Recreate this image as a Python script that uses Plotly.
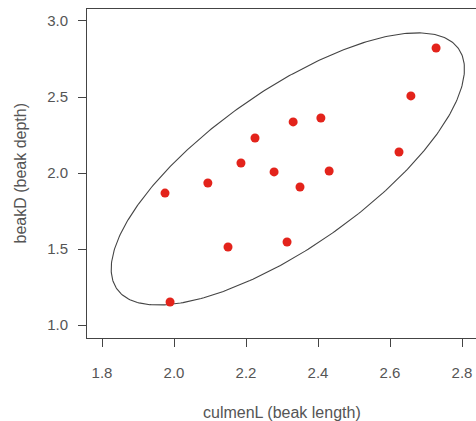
import numpy as np
import plotly.graph_objects as go

# Beak measurements
culmen_length = [1.975, 2.094, 2.186, 2.225, 2.278, 2.331, 2.408, 2.350, 2.431,
                 2.625, 2.658, 2.728, 2.150, 2.314, 1.989]
beak_depth = [1.868, 1.934, 2.066, 2.230, 2.007, 2.336, 2.362, 1.908, 2.013,
              2.138, 2.507, 2.822, 1.513, 1.546, 1.151]

x_ticks = [1.8, 2.0, 2.2, 2.4, 2.6, 2.8]
y_ticks = [1.0, 1.5, 2.0, 2.5, 3.0]

# 90% normal-theory ellipse from the sample mean and covariance
xy = np.column_stack([culmen_length, beak_depth])
center = xy.mean(axis=0)
cov = np.cov(xy, rowvar=False)
vals, vecs = np.linalg.eigh(cov)
radius = np.sqrt(-2 * np.log(1 - 0.90))
t = np.linspace(0, 2 * np.pi, 361)
circle = np.vstack([np.cos(t), np.sin(t)])
ell = (vecs @ np.diag(np.sqrt(vals)) @ circle) * radius + center[:, None]

text_col = "#555555"
line_col = "#444444"
tick_font = dict(family="Liberation Sans, Arial, sans-serif", size=15, color=text_col)
title_font = dict(family="Liberation Sans, Arial, sans-serif", size=16, color=text_col)

fig = go.Figure()
fig.add_trace(go.Scatter(x=ell[0], y=ell[1], mode="lines",
                         line=dict(color=line_col, width=1.1),
                         hoverinfo="skip", showlegend=False))
fig.add_trace(go.Scatter(x=culmen_length, y=beak_depth, mode="markers",
                         marker=dict(color="#e3231b", size=9),
                         showlegend=False))

fig.update_layout(
    width=476, height=421,
    margin=dict(l=87, r=0, t=9, b=83),
    paper_bgcolor="white", plot_bgcolor="white",
    font=tick_font,
    xaxis=dict(range=[1.7583, 2.8389], tickvals=x_ticks,
               ticktext=[f"{v:.1f}" for v in x_ticks],
               showgrid=False, zeroline=False,
               showline=True, linecolor=line_col, linewidth=1, mirror=True,
               ticks="outside", ticklen=8, tickcolor=line_col,
               ticklabelstandoff=13, tickfont=tick_font),
    yaxis=dict(range=[0.9145, 3.0789], tickvals=y_ticks,
               ticktext=[f"{v:.1f}" for v in y_ticks],
               showgrid=False, zeroline=False,
               showline=True, linecolor=line_col, linewidth=1, mirror=False,
               ticks="outside", ticklen=8, tickcolor=line_col,
               ticklabelstandoff=7, tickfont=tick_font),
    annotations=[
        dict(text="culmenL (beak length)", xref="paper", yref="paper",
             x=0.5, y=0, xanchor="center", yanchor="middle", yshift=-74,
             showarrow=False, font=title_font),
        dict(text="beakD (beak depth)", xref="paper", yref="paper",
             x=0, y=0.5, xanchor="center", yanchor="middle", xshift=-67,
             textangle=-90, showarrow=False, font=title_font),
    ],
)

fig.write_html("out.html")
